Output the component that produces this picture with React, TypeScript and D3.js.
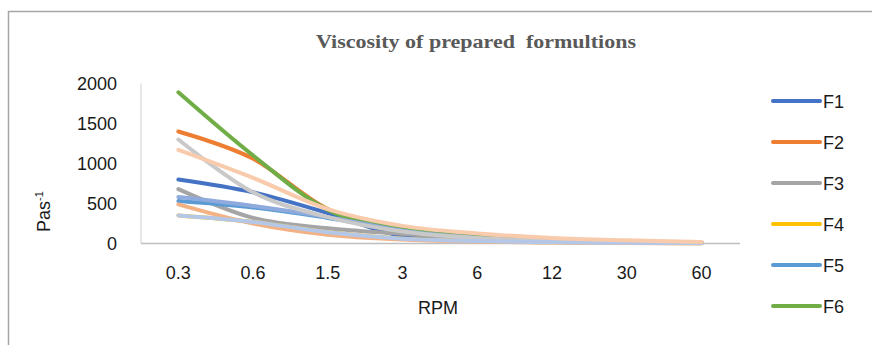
import React from "react";
import * as d3 from "d3";

const categories = ["0.3", "0.6", "1.5", "3", "6", "12", "30", "60"];
const yTicks = [0, 500, 1000, 1500, 2000];

const seriesNames = ["F1", "F2", "F3", "F4", "F5", "F6", "F7", "F8", "F9", "F10", "F11"];
const legendNames = ["F1", "F2", "F3", "F4", "F5", "F6"];
const seriesColors = [
  "#4472C4", "#ED7D31", "#A5A5A5", "#FFC000", "#5B9BD5", "#70AD47",
  "#8FAADC", "#F4B183", "#C9C9C9", "#B4C7E7", "#F8CBAD",
];

const f1 = [800, 640, 380, 90, 50, 25, 12, 6];
const f2 = [1400, 1060, 430, 170, 80, 40, 20, 10];
const f3 = [680, 320, 190, 120, 60, 30, 15, 8];
const f4 = [350, 270, 140, 60, 30, 15, 8, 4];
const f5 = [530, 450, 320, 170, 80, 40, 20, 10];
const f6 = [1890, 1100, 420, 180, 90, 50, 25, 10];
const f7 = [580, 470, 330, 160, 70, 30, 15, 8];
const f8 = [490, 250, 110, 50, 25, 12, 6, 3];
const f9 = [1300, 640, 330, 150, 70, 35, 18, 8];
const f10 = [350, 270, 140, 60, 30, 15, 8, 4];
const f11 = [1170, 820, 430, 220, 125, 70, 40, 18];

const seriesValues = [f1, f2, f3, f4, f5, f6, f7, f8, f9, f10, f11];

const W = 872;
const H = 345;

export default function App() {
  const x = d3.scalePoint<string>().domain(categories).range([141, 739]).padding(0.5);
  const y = d3.scaleLinear().domain([0, 2000]).range([243.5, 83.5]);
  const line = d3
    .line<number>()
    .x((_, i) => x(categories[i]) as number)
    .y((d) => y(d))
    .curve(d3.curveCardinal.tension(0));

  const sans = "'Liberation Sans', Arial, sans-serif";

  return (
    <svg
      width={W}
      height={H}
      style={{ position: "absolute", left: 0, top: 0, background: "#fff" }}
    >
      <rect x={0} y={0} width={W} height={H} fill="#fff" />
      {/* chart border */}
      <path d={`M8.5,${H} L8.5,11.5 L${W},11.5`} fill="none" stroke="#a6a6a6" strokeWidth={1.5} />

      {/* title */}
      <text
        x={476}
        y={48}
        textAnchor="middle"
        fontFamily="'Liberation Serif', 'Times New Roman', serif"
        fontWeight="bold"
        fontSize={18}
        fill="#595959"
        textLength={320}
        lengthAdjust="spacingAndGlyphs"
        style={{ whiteSpace: "pre" }}
      >
        {"Viscosity of prepared  formultions"}
      </text>

      {/* y ticks */}
      {yTicks.map((t) => (
        <text
          key={t}
          x={117}
          y={y(t) + 6.5}
          textAnchor="end"
          fontFamily={sans}
          fontSize={18}
          fill="#1a1a1a"
        >
          {t}
        </text>
      ))}

      {/* y axis title */}
      <text
        transform={`translate(50,232) rotate(-90)`}
        fontFamily={sans}
        fontSize={18}
        fill="#1a1a1a"
      >
        Pas
        <tspan dy={-7} fontSize={11}>-1</tspan>
      </text>

      {/* axes */}
      <line x1={141} x2={141} y1={83.5} y2={243.5} stroke="#d0d0d0" strokeWidth={1} />
      <line x1={141} x2={740} y1={243.5} y2={243.5} stroke="#bfbfbf" strokeWidth={1.5} />

      {/* x ticks */}
      {categories.map((c) => (
        <text
          key={c}
          x={x(c) as number}
          y={279}
          textAnchor="middle"
          fontFamily={sans}
          fontSize={18}
          fill="#1a1a1a"
        >
          {c}
        </text>
      ))}
      <text x={438} y={314} textAnchor="middle" fontFamily={sans} fontSize={18} fill="#1a1a1a">
        RPM
      </text>

      {/* series */}
      {seriesValues.map((vals, i) => (
        <path
          key={seriesNames[i]}
          d={line(vals) || ""}
          fill="none"
          stroke={seriesColors[i]}
          strokeWidth={4}
          strokeLinecap="round"
          strokeLinejoin="round"
        />
      ))}

      {/* legend */}
      {legendNames.map((n, i) => {
        const ly = 101 + i * 41;
        return (
          <g key={n}>
            <line x1={773} x2={820} y1={ly} y2={ly} stroke={seriesColors[i]} strokeWidth={4} strokeLinecap="round" />
            <text x={823} y={ly + 7} fontFamily={sans} fontSize={18} fill="#1a1a1a">
              {n}
            </text>
          </g>
        );
      })}
    </svg>
  );
}
